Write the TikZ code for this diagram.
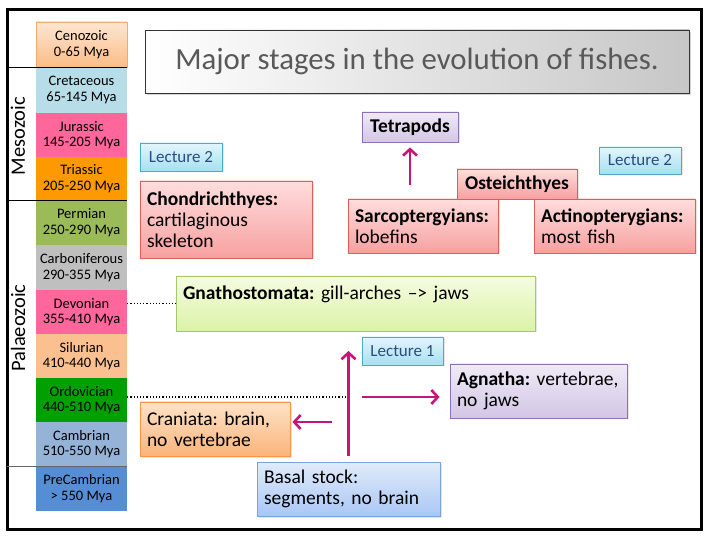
\documentclass[tikz,border=0pt]{standalone}
\usepackage{fontspec}
\setmainfont{Carlito}
\frenchspacing
\usetikzlibrary{arrows.meta,shadows}
% time scale
\definecolor{cenotop}{HTML}{FDE7D4}
\definecolor{cenobot}{HTML}{FBBC85}
\definecolor{cenoline}{HTML}{F8A866}
\definecolor{cretaceous}{HTML}{B7DDE8}
\definecolor{jurassic}{HTML}{FF6699}
\definecolor{triassic}{HTML}{FF9900}
\definecolor{permian}{HTML}{9BBB59}
\definecolor{carbon}{HTML}{BFBFBF}
\definecolor{silurian}{HTML}{FAC090}
\definecolor{ordovician}{HTML}{00A000}
\definecolor{cambrian}{HTML}{95B3D7}
\definecolor{precamb}{HTML}{558ED5}
% cards
\definecolor{rosetop}{HTML}{FFDDDD}
\definecolor{rosebot}{HTML}{F7A0A0}
\definecolor{roseline}{HTML}{D8605D}
\definecolor{lilactop}{HTML}{EFEAF6}
\definecolor{lilacbot}{HTML}{D3C6E6}
\definecolor{lilacline}{HTML}{8E71B4}
\definecolor{skytop}{HTML}{E2F6FC}
\definecolor{skybot}{HTML}{A6E0F1}
\definecolor{skyline}{HTML}{4BACC6}
\definecolor{limetop}{HTML}{F5FCE2}
\definecolor{limebot}{HTML}{DBF3A6}
\definecolor{limeline}{HTML}{A4C96A}
\definecolor{peachtop}{HTML}{FDE3C8}
\definecolor{peachbot}{HTML}{FBB47A}
\definecolor{peachline}{HTML}{F79646}
\definecolor{azuretop}{HTML}{E1EBFA}
\definecolor{azurebot}{HTML}{A9C7F5}
\definecolor{azureline}{HTML}{7BA3D9}
\definecolor{magenta}{RGB}{200,20,120}
\definecolor{lecink}{HTML}{2B4C7E}
\tikzset{
  >={Straight Barb[length=6.5pt,width=14pt]},
  era/.style={minimum width=91pt,inner sep=0pt,align=center,
    font=\fontsize{14.5}{15.5}\selectfont},
  card/.style={draw=#1line,top color=#1top,bottom color=#1bot,line width=0.8pt,
    inner xsep=7pt,inner ysep=2pt,align=left,font=\fontsize{19.5}{21}\selectfont,
    drop shadow={opacity=0.2,shadow xshift=1.5pt,shadow yshift=-1.5pt}},
  card/.default=rose,
  lecture/.style={card=sky,align=center,text=lecink,font=\fontsize{17}{19}\selectfont},
  flow/.style={->,line width=2.6pt,draw=magenta},
}
\begin{document}
\begin{tikzpicture}[x=1pt,y=-1pt]
  \useasboundingbox (0,0) rectangle (710,537);
  \draw[line width=3pt] (7,10) rectangle (701,529);
  \coordinate (fl) at (7,10);
  % geological time scale
  \foreach \nm/\top/\bot/\st/\txt in {
      ceno/22/67/{top color=cenotop,bottom color=cenobot,draw=cenoline}/{Cenozoic\\0-65 Mya},
      cret/67/113/{fill=cretaceous}/{Cretaceous\\65-145 Mya},
      jur/113/157/{fill=jurassic}/{Jurassic\\145-205 Mya},
      tri/157/200/{fill=triassic}/{Triassic\\205-250 Mya},
      perm/200/245/{fill=permian}/{Permian\\250-290 Mya},
      carb/245/290/{fill=carbon}/{Carboniferous\\290-355 Mya},
      dev/290/334/{fill=jurassic}/{Devonian\\355-410 Mya},
      sil/334/378/{fill=silurian}/{Silurian\\410-440 Mya},
      ord/378/422/{fill=ordovician}/{Ordovician\\440-510 Mya},
      camb/422/466/{fill=cambrian}/{Cambrian\\510-550 Mya},
      pre/466/511/{fill=precamb}/{PreCambrian\\> 550 Mya}}{
    \pgfmathsetmacro{\h}{\bot-\top}
    \pgfmathsetmacro{\c}{(\top+\bot)/2}
    \tikzset{erafill/.style/.expand once=\st}
    \node[era,minimum height=\h pt,erafill] (\nm) at (81.5,\c) {\txt};
  }
  \draw[line width=0.8pt] (ceno.south west -| fl) -- (ceno.south east);
  \draw[line width=0.8pt] (tri.south west -| fl) -- (tri.south east);
  \draw[line width=0.8pt,black!60] (camb.south west -| fl) -- (camb.south east);
  \node[rotate=90,font=\fontsize{20.5}{22}\selectfont] (meso) at (18,136) {Mesozoic};
  \node[rotate=90,font=\fontsize{20.5}{22}\selectfont] (palaeo) at (18,328) {Palaeozoic};
  % title
  \node[draw=black!80,line width=0.8pt,left color=white,right color=black!22,
    minimum width=544pt,minimum height=63pt,text=black!65,font=\fontsize{30.8}{34}\selectfont,
    drop shadow={opacity=0.35,shadow xshift=2pt,shadow yshift=-2pt}] (title) at (417,61.5)
    {Major stages in the evolution of fishes.};
  % upper branch
  \node[card=lilac,align=center,font=\fontsize{19.5}{21}\selectfont\bfseries,
    minimum width=96pt,minimum height=30pt] (tetra) at (410,127) {Tetrapods};
  \node[lecture,minimum width=82pt,minimum height=28pt] (lecA) at (181,157) {Lecture 2};
  \node[lecture,minimum width=82pt,minimum height=27pt] (lecB) at (640,160.5) {Lecture 2};
  \node[card,text width=158pt,minimum height=77pt] (chondro) at (226,219.5)
    {\textbf{Chondrichthyes:}\\cartilaginous\\skeleton};
  \node[card,text width=136pt,minimum height=54pt] (sarco) at (423,226)
    {\textbf{Sarcoptergyians:}\\lobefins};
  \node[card,text width=147pt,minimum height=54pt] (actino) at (614.5,226)
    {\textbf{Actinopterygians:}\\most fish};
  \node[card,align=center,font=\fontsize{19.5}{21}\selectfont\bfseries,
    minimum width=120pt,minimum height=30pt] (osteo) at (517,184) {Osteichthyes};
  \draw[flow] ([yshift=-43pt]tetra.south) -- ([yshift=-5pt]tetra.south);
  % lower branch
  \node[card=lime,text width=345pt,minimum height=55pt] (gnatho) at (355.5,303.5)
    {\textbf{Gnathostomata:} gill-arches –> jaws\\\mbox{}};
  \node[lecture,minimum width=81pt,minimum height=28pt] (lecC) at (402.5,351) {Lecture 1};
  \node[card=lilac,text width=163pt,minimum height=54pt] (agna) at (538.5,391)
    {\textbf{Agnatha:} vertebrae,\\no jaws};
  \node[card=peach,text width=136pt,minimum height=54pt] (cran) at (215,429)
    {Craniata: brain,\\no vertebrae};
  \node[card=azure,text width=169pt,minimum height=54pt] (basal) at (348.5,489)
    {Basal stock:\\segments, no brain};
  \coordinate (fork) at (basal.north |- ord.east);
  \draw[dotted,line width=1.2pt] (gnatho.west -| dev.east) -- (gnatho.west);
  \draw[dotted,line width=1.2pt] ([yshift=3pt]ord.east) -- ([yshift=3pt]fork);
  \draw[flow] ([yshift=6pt]basal.north) -- (basal.north |- lecC.west);
  \draw[flow] ([shift={(13pt,3pt)}]fork) -- ([shift={(-10pt,3pt)}]agna.west |- fork);
  \draw[flow] ([shift={(-17pt,7pt)}]cran.east -| fork) -- ([shift={(2pt,7pt)}]cran.east);
\end{tikzpicture}
\end{document}
